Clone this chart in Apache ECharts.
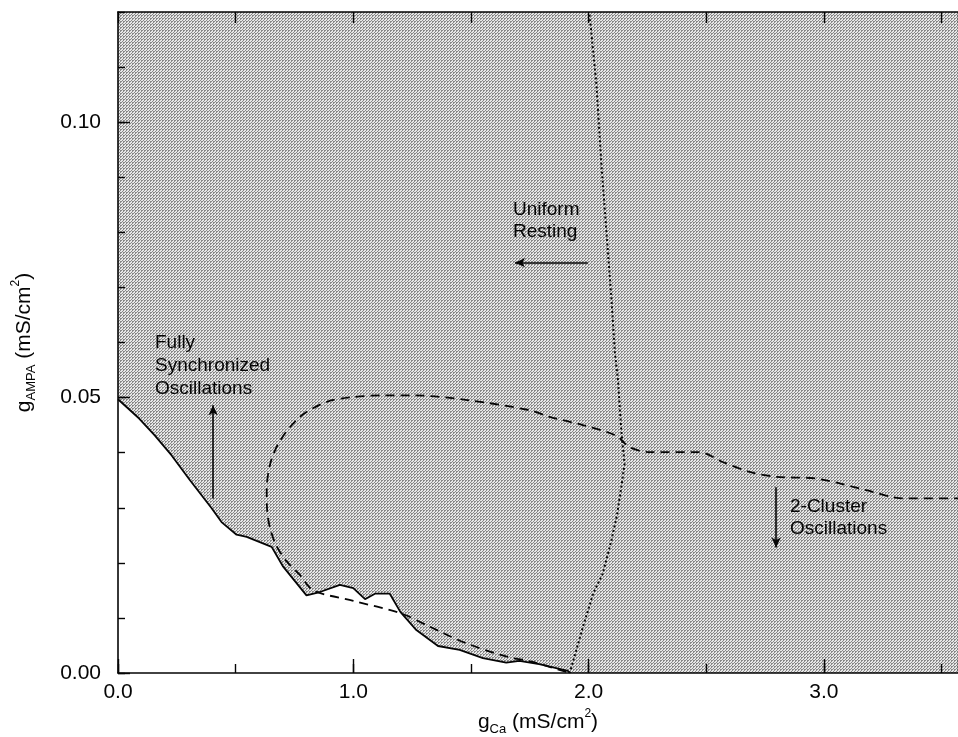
<!DOCTYPE html>
<html>
<head>
<meta charset="utf-8">
<script src="https://cdn.jsdelivr.net/npm/echarts@6/dist/echarts.min.js"></script>
<style>
html,body{margin:0;padding:0;background:#fff;}
#chart{width:958px;height:737px;}
</style>
</head>
<body>
<div id="chart"></div>
<script>
// ---- Data ----
const X_MIN = 0, X_MAX = 3.57;
const Y_MIN = 0, Y_MAX = 0.12;

// Solid boundary of the "fully synchronized" region
const solidGCa   = [0, 0.09, 0.157, 0.228, 0.306, 0.398, 0.44, 0.504, 0.547, 0.653, 0.702, 0.801, 0.858, 0.943, 1.0, 1.05, 1.092, 1.155, 1.2, 1.268, 1.36, 1.452, 1.551, 1.65, 1.706, 1.79, 1.912, 1.92];
const solidGAmpa = [0.0497, 0.0462, 0.0431, 0.0395, 0.035, 0.0299, 0.0274, 0.0251, 0.0247, 0.0229, 0.0193, 0.0141, 0.0147, 0.016, 0.0154, 0.0134, 0.0144, 0.0144, 0.0111, 0.0078, 0.0049, 0.0042, 0.0027, 0.0019, 0.0022, 0.0016, 0.0004, 0];

// Dashed boundary (2-cluster oscillations)
const dashedGCa   = [1.905, 1.762, 1.65, 1.48, 1.325, 1.204, 1.0, 0.83, 0.773, 0.716, 0.672, 0.645, 0.634, 0.632, 0.647, 0.689, 0.773, 0.886, 1.0, 1.127, 1.26, 1.494, 1.75, 1.834, 1.976, 2.117, 2.174, 2.259, 2.471, 2.57, 2.684, 2.797, 2.967, 3.18, 3.336, 3.57];
const dashedGAmpa = [0.0002, 0.002, 0.003, 0.0054, 0.0084, 0.0108, 0.0131, 0.015, 0.0178, 0.0203, 0.0232, 0.0265, 0.0295, 0.0332, 0.038, 0.0422, 0.0465, 0.0492, 0.0501, 0.0504, 0.0504, 0.0495, 0.0477, 0.0465, 0.045, 0.0431, 0.041, 0.0401, 0.0401, 0.0383, 0.0365, 0.0356, 0.0353, 0.0332, 0.0317, 0.0317];

// Dotted boundary (uniform resting)
const dottedGCa   = [2.004, 2.033, 2.055, 2.076, 2.097, 2.112, 2.125, 2.139, 2.153, 2.14, 2.12, 2.097, 2.06, 2.02, 1.976, 1.92];
const dottedGAmpa = [0.1195, 0.107, 0.092, 0.08, 0.068, 0.058, 0.0531, 0.044, 0.038, 0.034, 0.0285, 0.0241, 0.018, 0.0145, 0.0084, 0];

// Annotation arrows [fromX, fromY, toX, toY] in data units
const arrowSync    = [0.404, 0.0317, 0.404, 0.0486];
const arrowResting = [1.997, 0.0745, 1.687, 0.0745];
const arrowCluster = [2.797, 0.0337, 2.797, 0.0228];

const xTickLabels = ['0.0', '1.0', '2.0', '3.0'];
const yTickLabels = ['0.00', '0.05', '0.10'];

// ---- helpers ----
const zip = (a, b) => a.map((v, i) => [v, b[i]]);

function makeStipple() {
  const c = document.createElement('canvas');
  c.width = 3; c.height = 3;
  const ctx = c.getContext('2d');
  ctx.fillStyle = '#e6e6e6';
  ctx.fillRect(0, 0, 3, 3);
  ctx.fillStyle = '#888888';
  ctx.fillRect(0, 0, 2, 1);
  ctx.fillRect(0, 1, 1, 1);
  ctx.fillRect(2, 2, 1, 1);
  return c;
}

const FONT = 'Liberation Sans';
const INK = '#050505';
const isMult = (v, step) => Math.abs(v / step - Math.round(v / step)) < 1e-6;

const chart = echarts.init(document.getElementById('chart'), null, {renderer: 'canvas'});

const titleRich = {
  g:   {fontFamily: FONT, fontSize: 21, color: INK, lineHeight: 28, verticalAlign: 'middle'},
  t:   {fontFamily: FONT, fontSize: 21, color: INK, lineHeight: 28, verticalAlign: 'middle'},
  sub: {fontFamily: FONT, fontSize: 13, color: INK, lineHeight: 13, verticalAlign: 'bottom'},
  sup: {fontFamily: FONT, fontSize: 12, color: INK, lineHeight: 12, verticalAlign: 'top'}
};

function arrowMark(a) {
  return [
    {coord: [a[0], a[1]], symbol: 'none'},
    {coord: [a[2], a[3]], symbol: 'arrow', symbolSize: [7, 10]}
  ];
}

const tickStyle = {color: INK, width: 1.4};
const ANNOT_FONT = '19px "Liberation Sans"';

const option = {
  animation: false,
  backgroundColor: '#fff',
  grid: {left: 118, top: 12, right: 0, bottom: 64, containLabel: false, outerBoundsMode: 'none'},
  xAxis: [
    {
      type: 'value', position: 'bottom', min: X_MIN, max: X_MAX, interval: 0.5, z: 10,
      axisLine: {show: true, onZero: false, lineStyle: {color: INK, width: 1.6}},
      axisTick: {show: true, inside: true, length: 9, lineStyle: tickStyle},
      axisLabel: {
        show: true, margin: 9, color: INK, fontFamily: FONT, fontSize: 21,
        showMaxLabel: false,
        formatter: v => (isMult(v, 1) ? xTickLabels[Math.round(v)] || '' : '')
      },
      splitLine: {show: false},
      name: '{g|g}{sub|Ca}{t| (mS/cm}{sup|2}{t|)}',
      nameLocation: 'middle', nameGap: 35,
      nameTextStyle: {rich: titleRich}
    },
    {
      type: 'value', position: 'bottom', min: X_MIN, max: X_MAX, interval: 1, z: 10,
      axisLine: {show: false, onZero: false},
      axisTick: {show: true, inside: true, length: 14, lineStyle: tickStyle},
      axisLabel: {show: false}, splitLine: {show: false}
    },
    {
      type: 'value', position: 'top', min: X_MIN, max: X_MAX, interval: 0.5, z: 10,
      axisLine: {show: true, onZero: false, lineStyle: {color: INK, width: 1.6}},
      axisTick: {show: true, inside: true, length: 11, lineStyle: tickStyle},
      axisLabel: {show: false}, splitLine: {show: false}
    }
  ],
  yAxis: [
    {
      type: 'value', position: 'left', min: Y_MIN, max: Y_MAX, interval: 0.01, z: 10,
      axisLine: {show: true, onZero: false, lineStyle: {color: INK, width: 1.6}},
      axisTick: {show: true, inside: true, length: 7, lineStyle: tickStyle},
      axisLabel: {show: false}, splitLine: {show: false},
      name: '{g|g}{sub|AMPA}{t| (mS/cm}{sup|2}{t|)}',
      nameLocation: 'middle', nameGap: 80, nameRotate: 90,
      nameTextStyle: {rich: titleRich}
    },
    {
      type: 'value', position: 'left', offset: 0, min: Y_MIN, max: Y_MAX, interval: 0.05, z: 10,
      axisLine: {show: false, onZero: false},
      axisTick: {show: true, inside: true, length: 12, lineStyle: tickStyle},
      axisLabel: {
        show: true, margin: 17, color: INK, fontFamily: FONT, fontSize: 21,
        showMaxLabel: false,
        formatter: v => (isMult(v, 0.05) ? yTickLabels[Math.round(v / 0.05)] || '' : '')
      },
      splitLine: {show: false}
    }
  ],
  series: [
    {
      name: 'stipple', type: 'line', xAxisIndex: 0, yAxisIndex: 0, z: 1,
      data: [[X_MIN, Y_MAX], [X_MAX, Y_MAX]],
      symbol: 'none', silent: true,
      lineStyle: {width: 0, opacity: 0},
      areaStyle: {color: {image: makeStipple(), repeat: 'repeat'}, opacity: 1}
    },
    {
      name: 'Fully synchronized boundary', type: 'line', xAxisIndex: 0, yAxisIndex: 0, z: 2,
      data: zip(solidGCa, solidGAmpa),
      symbol: 'none',
      lineStyle: {color: INK, width: 1.8},
      areaStyle: {color: '#ffffff', opacity: 1}
    },
    {
      name: '2-cluster boundary', type: 'line', xAxisIndex: 0, yAxisIndex: 0, z: 3,
      data: zip(dashedGCa, dashedGAmpa),
      symbol: 'none', smooth: 0.3,
      lineStyle: {color: INK, width: 1.8, type: [9, 6]}
    },
    {
      name: 'Uniform resting boundary', type: 'line', xAxisIndex: 0, yAxisIndex: 0, z: 3,
      data: zip(dottedGCa, dottedGAmpa),
      symbol: 'none',
      lineStyle: {color: INK, width: 2, type: [2, 2.5]}
    },
    {
      name: 'arrows', type: 'line', xAxisIndex: 0, yAxisIndex: 0, z: 4,
      data: [], symbol: 'none',
      markLine: {
        silent: true, animation: false,
        label: {show: false},
        lineStyle: {color: INK, width: 1.6, type: 'solid'},
        data: [arrowMark(arrowSync), arrowMark(arrowResting), arrowMark(arrowCluster)]
      }
    }
  ],
  graphic: [
    {type: 'text', left: 155, top: 331, z: 10,
     style: {text: 'Fully\nSynchronized\nOscillations', font: ANNOT_FONT, fill: INK, lineHeight: 23}},
    {type: 'text', left: 513, top: 199, z: 10,
     style: {text: 'Uniform\nResting', font: ANNOT_FONT, fill: INK, lineHeight: 22}},
    {type: 'text', left: 790, top: 496, z: 10,
     style: {text: '2-Cluster\nOscillations', font: ANNOT_FONT, fill: INK, lineHeight: 22}}
  ]
};

chart.setOption(option);
</script>
</body>
</html>
